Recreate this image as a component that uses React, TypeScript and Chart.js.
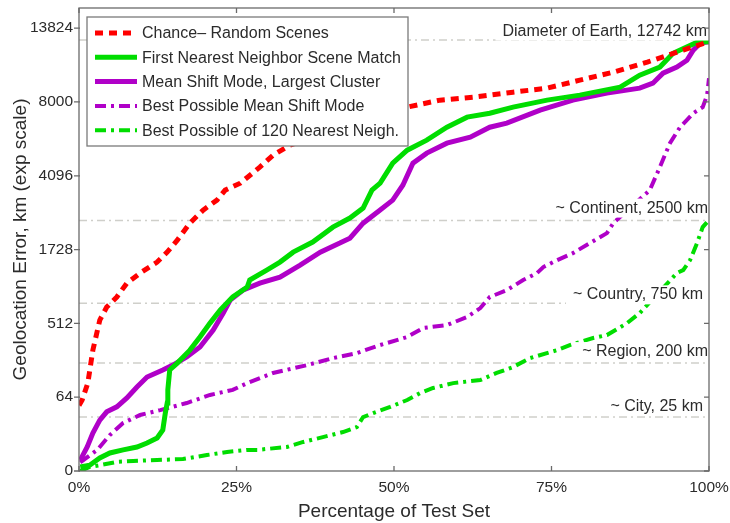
import React, { useEffect, useRef } from 'react';
import { Chart, registerables, LinearScale } from 'chart.js';

// Cube-root ("exp") value axis: equal spacing for 0, 4^3, 8^3, 12^3 ...
class CubeRootScale extends LinearScale {
  static id = 'cuberoot';
  static defaults = {};
  getPixelForValue(value: number) {
    const lo = Math.cbrt(this.min), hi = Math.cbrt(this.max);
    return this.getPixelForDecimal((Math.cbrt(value) - lo) / (hi - lo));
  }
  getValueForPixel(pixel: number) {
    const lo = Math.cbrt(this.min), hi = Math.cbrt(this.max);
    const c = lo + this.getDecimalForPixel(pixel) * (hi - lo);
    return c * c * c;
  }
}
Chart.register(...registerables, CubeRootScale);

// ---------------- data ----------------
const xTickPct = [0, 25, 50, 75, 100];
const yTickKm = [0, 64, 512, 1728, 4096, 8000, 13824];
const yMaxKm = 15800;

const seriesNames = [
  'Chance\u2013 Random Scenes',
  'First Nearest Neighbor Scene Match',
  'Mean Shift Mode, Largest Cluster',
  'Best Possible Mean Shift Mode',
  'Best Possible of 120 Nearest Neigh.',
];

const chancePct = [0, 0.5, 1.4, 2.2, 3.3, 4.4, 6.0, 7.6, 9.7, 12.4, 14.0, 15.6, 17.6, 19.7, 21.9, 23.2, 25.6, 28.7, 30.8, 33.5, 40, 46, 52.1, 57.3, 62.5, 68.9, 74.3, 79.5, 84.8, 90.2, 95.9, 99.7];
const chanceKm = [45, 57, 108, 281, 547, 701, 838, 1056, 1234, 1451, 1669, 1959, 2424, 2826, 3164, 3527, 3796, 4466, 5015, 5508, 6230, 7080, 7667, 8120, 8316, 8653, 8934, 9502, 10094, 10882, 11868, 12552];

const firstNNPct = [0.2, 1.7, 3.3, 4.9, 7.0, 9.2, 10.8, 12.4, 13.3, 13.7, 14.0, 14.1, 14.4, 15.6, 17.6, 19.2, 20.8, 22.4, 24.4, 26.7, 27.1, 29.8, 31.9, 34.0, 37.1, 40.3, 43.0, 45.1, 46.5, 47.8, 49.8, 52.1, 55.2, 58.4, 61.6, 65.2, 68.9, 74.3, 79.5, 85.9, 89.0, 92.2, 94.3, 98.1, 100];
const firstNNKm = [0.01, 0.03, 0.35, 0.93, 1.5, 2.2, 3.5, 5.7, 11, 31, 50, 85, 164, 200, 281, 383, 515, 663, 838, 990, 1108, 1291, 1451, 1669, 1910, 2309, 2576, 2892, 3527, 3796, 4642, 5258, 5765, 6468, 7053, 7293, 7667, 8120, 8452, 8999, 9870, 10489, 11605, 12552, 12600];

const meanShiftPct = [0.2, 1.3, 2.2, 3.3, 4.4, 6.0, 7.6, 9.2, 10.8, 13.3, 14.9, 17.1, 19.2, 21.3, 22.9, 24.0, 26.0, 28.7, 31.9, 35.1, 38.3, 41.4, 43.0, 45.1, 47.8, 49.8, 51.4, 53.0, 55.2, 58.4, 62.1, 65.2, 67.9, 73.2, 78.4, 83.8, 89.0, 91.1, 92.7, 94.9, 96.5, 97.5, 98.6, 100];
const meanShiftKm = [0.2, 2.2, 8.7, 21, 33, 42, 62, 94, 132, 164, 189, 236, 303, 446, 627, 794, 941, 1055, 1161, 1390, 1668, 1884, 2010, 2422, 2827, 3164, 3717, 4642, 5113, 5610, 5921, 6468, 6700, 7480, 8120, 8588, 8934, 9287, 10022, 10489, 11031, 11866, 12468, 12600];

const bestMSPct = [0.2, 2.9, 4.9, 7.0, 9.7, 12.9, 17.1, 20.8, 24.4, 26.7, 30.8, 36.2, 40.3, 44.1, 47.8, 52.1, 54.6, 58.4, 61.6, 63.7, 65.2, 67.9, 70.5, 72.7, 73.7, 75.9, 78.4, 81.1, 83.8, 84.8, 90.6, 92.2, 93.8, 95.4, 97.5, 99.0, 99.7, 100];
const bestMSKm = [0.1, 1.5, 7.4, 17.6, 28, 36, 50, 70, 85, 108, 150, 189, 229, 261, 318, 383, 465, 495, 581, 688, 838, 942, 1108, 1234, 1350, 1493, 1647, 1884, 2143, 2424, 3527, 4466, 5609, 6468, 7293, 7667, 8452, 9650];

const best120Pct = [0.2, 1.7, 3.3, 6.0, 8.6, 12.4, 16.5, 20.3, 23.5, 26.7, 28.3, 33.0, 35.6, 38.7, 41.9, 44.1, 45.1, 46.7, 49.4, 52.1, 54.1, 56.2, 59.4, 63.7, 66.3, 68.9, 71.6, 75.9, 77.9, 81.6, 83.8, 87.0, 89.0, 94.9, 95.9, 97.0, 98.1, 99.0, 99.7];
const best120Km = [0, 0.01, 0.03, 0.12, 0.16, 0.21, 0.27, 0.65, 1.1, 1.5, 1.5, 2.2, 3.9, 6.2, 9.4, 13.5, 25, 31, 42, 57, 75, 91, 108, 120, 150, 179, 229, 281, 318, 374, 400, 515, 627, 1234, 1291, 1493, 1884, 2309, 2455];

const refKm = [12742, 2500, 750, 200, 25];
const refLabels = ['Diameter of Earth, 12742 km', '~ Continent, 2500 km', '~ Country, 750 km', '~ Region, 200 km', '~ City, 25 km'];

// ---------------- presentation ----------------
const FONT = '"Liberation Sans", Arial, Helvetica, sans-serif';
const TEXT = '#2b2b2b';
const RED = '#ff0000';
const GREEN = '#00dd00';
const PURPLE = '#b000c8';
const LABEL_LIFT = [4.5, 8, 4, 7, 6];
const LABEL_INSET = [2, 1, 6, 1, 6];

const pts = (xs: number[], ys: number[]) => xs.map((x, i) => ({ x, y: ys[i] }));

const decorPlugin = {
  id: 'decor',
  beforeDatasetsDraw(chart: any) {
    const { ctx, chartArea: a, scales } = chart;
    ctx.save();
    ctx.strokeStyle = '#cfcfca';
    ctx.lineWidth = 1.5;
    ctx.setLineDash([8, 4, 2, 4]);
    refKm.forEach((km) => {
      const py = scales.y.getPixelForValue(km);
      ctx.beginPath();
      ctx.moveTo(a.left, py);
      ctx.lineTo(a.right, py);
      ctx.stroke();
    });
    ctx.restore();
  },
  afterDatasetsDraw(chart: any) {
    const { ctx, chartArea: a, scales } = chart;
    ctx.save();
    // reference labels
    ctx.font = `16px ${FONT}`;
    ctx.textAlign = 'right';
    ctx.textBaseline = 'alphabetic';
    refLabels.forEach((t, i) => {
      const py = scales.y.getPixelForValue(refKm[i]);
      const base = py - LABEL_LIFT[i];
      const w = ctx.measureText(t).width;
      const xr = a.right - LABEL_INSET[i];
      ctx.fillStyle = '#ffffff';
      ctx.fillRect(xr - w - 7, base - 14, w + 9, 19);
      ctx.fillStyle = TEXT;
      ctx.fillText(t, xr, base);
    });
    // frame
    ctx.strokeStyle = '#6a6a6a';
    ctx.lineWidth = 1.3;
    ctx.setLineDash([]);
    ctx.strokeRect(a.left, a.top, a.right - a.left, a.bottom - a.top);
    // ticks
    ctx.beginPath();
    xTickPct.forEach((v) => {
      const px = scales.x.getPixelForValue(v);
      ctx.moveTo(px, a.bottom); ctx.lineTo(px, a.bottom - 5);
      ctx.moveTo(px, a.top); ctx.lineTo(px, a.top + 5);
    });
    yTickKm.forEach((v) => {
      const py = scales.y.getPixelForValue(v);
      ctx.moveTo(a.left - 5, py); ctx.lineTo(a.left + 1, py);
      ctx.moveTo(a.right, py); ctx.lineTo(a.right - 5, py);
    });
    ctx.stroke();
    // legend
    const lx = 87, ly = 17, lw = 321, lh = 129;
    ctx.fillStyle = '#ffffff';
    ctx.fillRect(lx, ly, lw, lh);
    ctx.strokeStyle = '#7a7a7a';
    ctx.lineWidth = 1.3;
    ctx.strokeRect(lx, ly, lw, lh);
    ctx.font = `16px ${FONT}`;
    ctx.textAlign = 'left';
    ctx.textBaseline = 'middle';
    chart.data.datasets.forEach((ds: any, i: number) => {
      const ry = ly + 16 + i * 24.3;
      ctx.strokeStyle = ds.borderColor;
      ctx.lineWidth = ds.borderWidth;
      ctx.setLineDash(ds.borderDash || []);
      ctx.beginPath();
      ctx.moveTo(lx + 8, ry);
      ctx.lineTo(lx + 50, ry);
      ctx.stroke();
      ctx.setLineDash([]);
      ctx.fillStyle = TEXT;
      ctx.fillText(ds.label, lx + 55, ry + 1);
    });
    ctx.restore();
  },
  afterDraw(chart: any) {
    const { ctx, chartArea: a } = chart;
    ctx.save();
    ctx.fillStyle = TEXT;
    ctx.font = `19px ${FONT}`;
    ctx.textAlign = 'center';
    ctx.textBaseline = 'middle';
    ctx.fillText('Percentage of Test Set', (a.left + a.right) / 2, 512);
    ctx.translate(21, (a.top + a.bottom) / 2);
    ctx.rotate(-Math.PI / 2);
    ctx.fillText('Geolocation Error, km (exp scale)', 0, 0);
    ctx.restore();
  },
};

export default function App() {
  const ref = useRef<HTMLCanvasElement>(null);
  useEffect(() => {
    if (!ref.current) return;
    const chart = new Chart(ref.current, {
      type: 'line',
      data: {
        datasets: [
          { label: seriesNames[0], data: pts(chancePct, chanceKm), borderColor: RED, borderWidth: 5, borderDash: [8, 6] },
          { label: seriesNames[1], data: pts(firstNNPct, firstNNKm), borderColor: GREEN, borderWidth: 5 },
          { label: seriesNames[2], data: pts(meanShiftPct, meanShiftKm), borderColor: PURPLE, borderWidth: 5 },
          { label: seriesNames[3], data: pts(bestMSPct, bestMSKm), borderColor: PURPLE, borderWidth: 4, borderDash: [11, 5, 3, 5] },
          { label: seriesNames[4], data: pts(best120Pct, best120Km), borderColor: GREEN, borderWidth: 4, borderDash: [11, 5, 3, 5] },
        ] as any,
      },
      options: {
        animation: false,
        responsive: false,
        events: [],
        layout: { padding: { top: 8, right: 21, left: 0, bottom: 0 } },
        elements: { point: { radius: 0 }, line: { tension: 0, fill: false } },
        plugins: { legend: { display: false }, tooltip: { enabled: false }, title: { display: false } },
        scales: {
          x: {
            type: 'linear',
            min: 0,
            max: 100,
            bounds: 'data',
            grid: { display: false, drawTicks: false },
            border: { display: false },
            afterBuildTicks: (s: any) => { s.ticks = xTickPct.map((v) => ({ value: v })); },
            afterFit: (s: any) => { s.height = 52; s.paddingLeft = 0; s.paddingRight = 0; },
            ticks: { callback: (v: any) => `${v}%`, color: TEXT, font: { family: FONT, size: 15.5 }, padding: 7, maxRotation: 0, autoSkip: false },
          },
          y: {
            type: 'cuberoot' as any,
            min: 0,
            max: yMaxKm,
            bounds: 'data',
            grid: { display: false, drawTicks: false },
            border: { display: false },
            afterBuildTicks: (s: any) => { s.ticks = yTickKm.map((v) => ({ value: v })); },
            afterFit: (s: any) => { s.width = 79; s.paddingTop = 0; s.paddingBottom = 0; },
            ticks: { callback: (v: any) => String(v), color: TEXT, font: { family: FONT, size: 15.5 }, padding: 6, autoSkip: false },
          },
        },
      } as any,
      plugins: [decorPlugin],
    });
    return () => chart.destroy();
  }, []);
  return (
    <div style={{ position: 'absolute', left: 0, top: 0, width: 730, height: 523, background: '#fff' }}>
      <canvas ref={ref} width={730} height={523} style={{ display: 'block' }} />
    </div>
  );
}
